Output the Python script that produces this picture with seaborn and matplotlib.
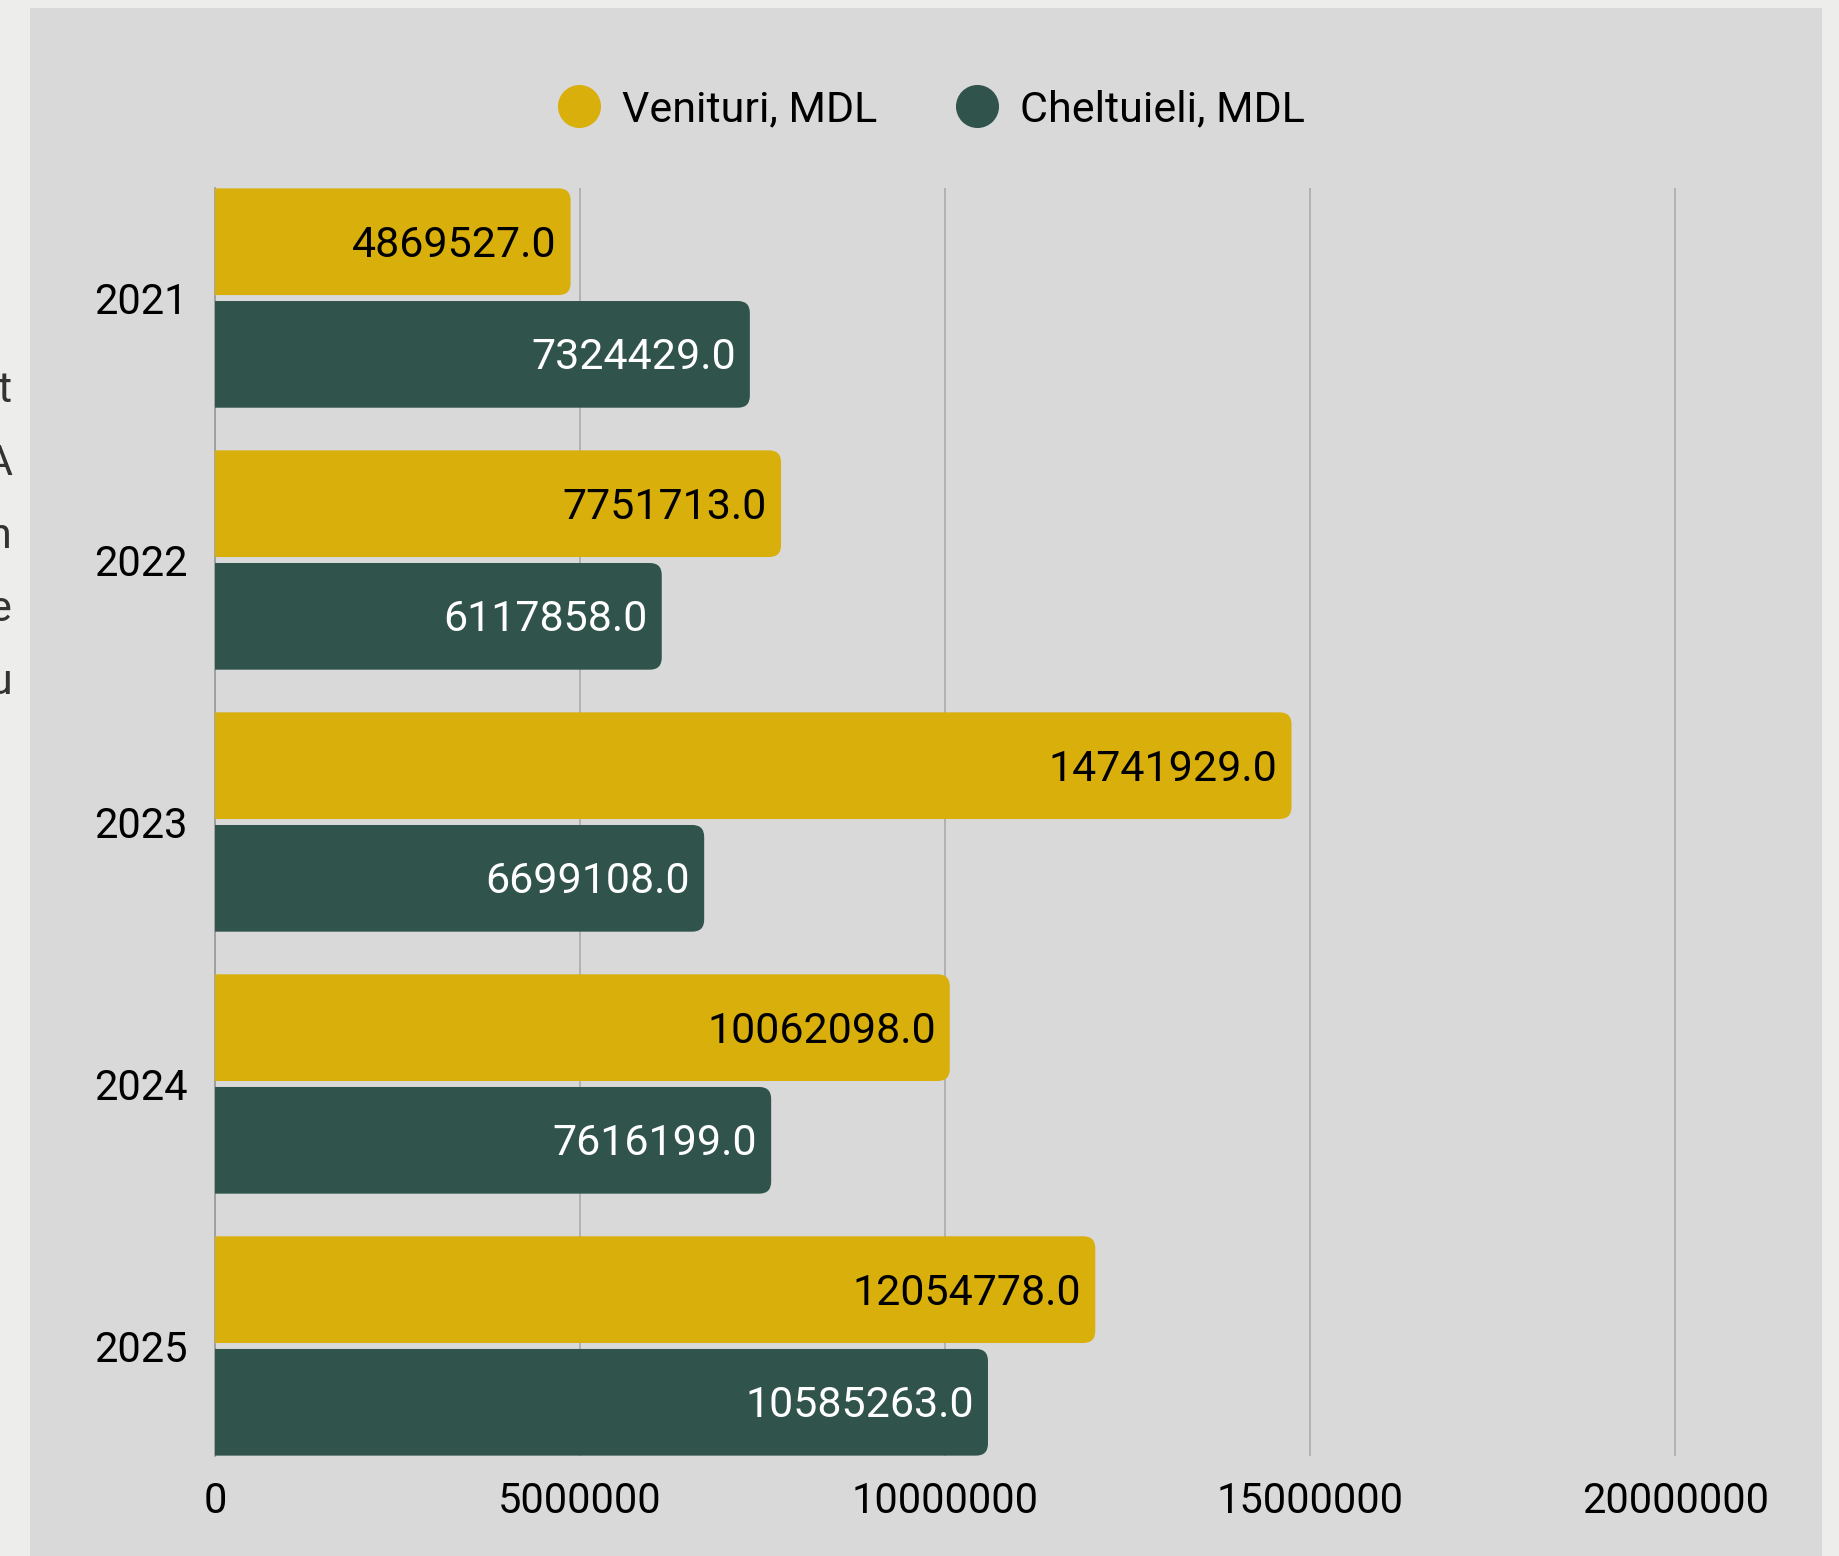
import matplotlib
matplotlib.use("Agg")
import matplotlib.pyplot as plt
import pandas as pd
import seaborn as sns
from matplotlib.lines import Line2D
from matplotlib.patches import FancyBboxPatch, Rectangle

# data
years = ["2021", "2022", "2023", "2024", "2025"]
venituri = [4869527.0, 7751713.0, 14741929.0, 10062098.0, 12054778.0]
cheltuieli = [7324429.0, 6117858.0, 6699108.0, 7616199.0, 10585263.0]
series_names = ["Venituri, MDL", "Cheltuieli, MDL"]
x_ticks = [0, 5000000, 10000000, 15000000, 20000000]
# clipped letters of text from the page behind the chart (left edge)
edge_letters = ["t", "A", "n", "e", "u"]

GOLD = "#D8AF0B"
GREEN = "#30534C"
PANEL = "#D9D9D9"
OUTER = "#EDEEEB"

plt.rcParams["font.family"] = ["Roboto", "DejaVu Sans"]

W, H, DPI = 1840, 1556, 100
fig = plt.figure(figsize=(W / DPI, H / DPI), dpi=DPI, facecolor=OUTER)

# grey chart panel
fig.patches.append(Rectangle((30 / W, 0), (1822 - 30) / W, 1548 / H,
                             transform=fig.transFigure, facecolor=PANEL,
                             edgecolor="none", zorder=-10))

for letter, base in zip(edge_letters, [402, 475, 548, 621, 694]):
    fig.text(12 / W, 1 - base / H, letter, ha="right", va="baseline",
             fontsize=31, color="#333333")

ax_l, ax_r, ax_t, ax_b = 215, 1785, 188, 1456
ax = fig.add_axes([ax_l / W, 1 - ax_b / H, (ax_r - ax_l) / W, (ax_b - ax_t) / H])
ax.set_facecolor(PANEL)

df = pd.DataFrame({
    "year": years * 2,
    "value": venituri + cheltuieli,
    "series": [series_names[0]] * len(years) + [series_names[1]] * len(years),
})

sns.barplot(data=df, x="value", y="year", hue="series", orient="h",
            palette=[GOLD, GREEN], width=0.86, gap=0.053, legend=False,
            saturation=1, ax=ax)

xmax = 21500000
ax.set_xlim(0, xmax)
ax.set_ylim(4.42, -0.42)

# value labels inside bar ends
for container, txt_color in zip(ax.containers, ["black", "white"]):
    labels = [f"{v:.1f}" for v in container.datavalues]
    anns = ax.bar_label(container, labels=labels, padding=-10, fontsize=31,
                        color=txt_color)
    for a in anns:
        a.set_ha("right")
        a.xyann = (a.xyann[0], a.xyann[1] - 2.5)

# replace the bars with versions rounded on the right end
px_per_x = (ax_r - ax_l) / xmax
px_per_y = (ax_b - ax_t) / 4.84
rad_px = 12
r = rad_px / px_per_x
aspect = (rad_px / px_per_y) / r
for container in ax.containers:
    for p in container.patches:
        x0, y0, w, h = p.get_x(), p.get_y(), p.get_width(), p.get_height()
        fancy = FancyBboxPatch((x0 - r, y0), w + r, h,
                               boxstyle=f"round,pad=0,rounding_size={r}",
                               mutation_aspect=aspect,
                               facecolor=p.get_facecolor(), edgecolor="none",
                               zorder=2)
        ax.add_patch(fancy)
        p.set_visible(False)

ax.set_axisbelow(True)
ax.xaxis.grid(True, color="#ABABAB", linewidth=1.2)
ax.yaxis.grid(False)
for s in ["top", "right", "bottom"]:
    ax.spines[s].set_visible(False)
ax.spines["left"].set_color("#9a9a9a")
ax.spines["left"].set_linewidth(1.2)
ax.spines["left"].set_zorder(1)

ax.set_xticks(x_ticks)
ax.set_xticklabels([str(t) for t in x_ticks])
ax.tick_params(axis="x", length=0, pad=18, labelsize=30, labelcolor="black")
ax.tick_params(axis="y", length=0, pad=20, labelsize=30, labelcolor="black")
ax.set_xlabel("")
ax.set_ylabel("")

handles = [Line2D([], [], linestyle="none", marker="o", markersize=31,
                  markerfacecolor=c, markeredgecolor="none")
           for c in [GOLD, GREEN]]
fig.legend(handles, series_names, loc="center", ncol=2,
           bbox_to_anchor=(0.506, 1 - 110 / H), frameon=False, fontsize=31,
           handlelength=1.0, handletextpad=0.5, columnspacing=1.8)

fig.savefig("out.png", dpi=DPI, facecolor=OUTER)
